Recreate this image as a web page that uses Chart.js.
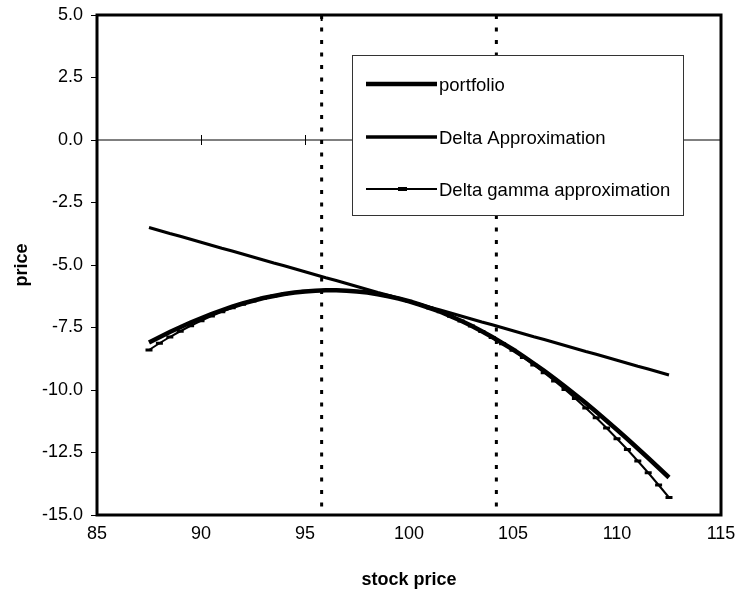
<!DOCTYPE html>
<html><head><meta charset="utf-8">
<script src="https://cdn.jsdelivr.net/npm/chart.js@4/dist/chart.umd.min.js"></script>
<style>html,body{margin:0;padding:0;background:#fff}#wrap{width:740px;height:594px;position:relative}</style>
</head><body><div id="wrap"><canvas id="c" width="740" height="594"></canvas></div>
<script>
const stockPrice = [87.5,88,88.5,89,89.5,90,90.5,91,91.5,92,92.5,93,93.5,94,94.5,95,95.5,96,96.5,97,97.5,98,98.5,99,99.5,100,100.5,101,101.5,102,102.5,103,103.5,104,104.5,105,105.5,106,106.5,107,107.5,108,108.5,109,109.5,110,110.5,111,111.5,112,112.5];
const portfolio = [-8.10,-7.89,-7.68,-7.49,-7.30,-7.13,-6.96,-6.81,-6.67,-6.54,-6.43,-6.32,-6.24,-6.16,-6.10,-6.06,-6.03,-6.01,-6.01,-6.03,-6.06,-6.10,-6.17,-6.25,-6.34,-6.45,-6.58,-6.72,-6.87,-7.05,-7.23,-7.43,-7.65,-7.88,-8.13,-8.38,-8.65,-8.94,-9.23,-9.54,-9.86,-10.19,-10.52,-10.87,-11.23,-11.59,-11.96,-12.34,-12.72,-13.11,-13.50];
const deltaApprox = [-3.50,-3.62,-3.74,-3.85,-3.97,-4.09,-4.21,-4.33,-4.44,-4.56,-4.68,-4.80,-4.92,-5.03,-5.15,-5.27,-5.39,-5.51,-5.62,-5.74,-5.86,-5.98,-6.10,-6.21,-6.33,-6.45,-6.57,-6.69,-6.80,-6.92,-7.04,-7.16,-7.28,-7.39,-7.51,-7.63,-7.75,-7.87,-7.98,-8.10,-8.22,-8.34,-8.46,-8.57,-8.69,-8.81,-8.93,-9.05,-9.16,-9.28,-9.40];
const deltaGammaApprox = [-8.40,-8.13,-7.88,-7.65,-7.43,-7.23,-7.04,-6.87,-6.71,-6.57,-6.44,-6.33,-6.24,-6.16,-6.10,-6.05,-6.02,-6.01,-6.01,-6.02,-6.06,-6.10,-6.17,-6.25,-6.34,-6.45,-6.58,-6.72,-6.87,-7.05,-7.24,-7.44,-7.66,-7.90,-8.15,-8.41,-8.70,-9.00,-9.31,-9.64,-9.98,-10.34,-10.72,-11.11,-11.52,-11.95,-12.38,-12.84,-13.31,-13.80,-14.30];
const markerLines = [95.8, 104.2];
const xTicks = [85,90,95,100,105,110,115];
const yTicks = [-15,-12.5,-10,-7.5,-5,-2.5,0,2.5,5];
const seriesNames = ['portfolio','Delta Approximation','Delta gamma approximation'];

const FONT = "'Liberation Sans', Arial, sans-serif";
const pts = arr => stockPrice.map((x,i)=>({x:x,y:arr[i]}));
const vline = x => [{x:x,y:yTicks[yTicks.length-1]},{x:x,y:yTicks[0]}];

const frameAndZero = {
  id:'frameAndZero',
  beforeDatasetsDraw(chart){
    const {ctx, chartArea:a, scales:{x,y}} = chart;
    const y0 = y.getPixelForValue(0);
    ctx.save();
    ctx.strokeStyle='#000'; ctx.lineWidth=1;
    ctx.beginPath(); ctx.moveTo(a.left,y0); ctx.lineTo(a.right,y0); ctx.stroke();
    xTicks.forEach(v=>{const px=Math.round(x.getPixelForValue(v))+0.5; ctx.beginPath(); ctx.moveTo(px,y0-5); ctx.lineTo(px,y0+5); ctx.stroke();});
    ctx.restore();
  },
  afterDatasetsDraw(chart){
    const {ctx, chartArea:a} = chart;
    ctx.save();
    ctx.strokeStyle='#000'; ctx.lineWidth=3;
    ctx.strokeRect(a.left,a.top,a.right-a.left,a.bottom-a.top);
    const bx=352, by=55, bw=331, bh=160;
    ctx.fillStyle='#fff'; ctx.fillRect(bx,by,bw,bh);
    ctx.strokeStyle='#333'; ctx.lineWidth=1; ctx.strokeRect(bx+0.5,by+0.5,bw,bh);
    const rows=[84,137,189], widths=[4.5,3.5,2];
    ctx.fillStyle='#000'; ctx.font='18.5px '+FONT; ctx.textBaseline='middle'; ctx.textAlign='left';
    rows.forEach((ry,i)=>{
      ctx.strokeStyle='#000'; ctx.lineWidth=widths[i];
      ctx.beginPath(); ctx.moveTo(366,ry); ctx.lineTo(437,ry); ctx.stroke();
      if(i===2){ ctx.fillRect(398,ry-2,9,4); }
      ctx.fillText(seriesNames[i],439,ry+2);
    });
    ctx.restore();
  }
};

new Chart(document.getElementById('c'),{
  type:'line',
  data:{datasets:[
    {label:seriesNames[0],data:pts(portfolio),borderColor:'#000',borderWidth:4.5,pointRadius:0,tension:0},
    {label:seriesNames[1],data:pts(deltaApprox),borderColor:'#000',borderWidth:3,pointRadius:0,tension:0},
    {label:seriesNames[2],data:pts(deltaGammaApprox),borderColor:'#000',borderWidth:2,pointRadius:3.5,pointStyle:'line',pointBorderWidth:3,pointBorderColor:'#000',pointBackgroundColor:'#000',tension:0},
    {label:'lower',data:vline(markerLines[0]),borderColor:'#000',borderWidth:3,borderDash:[4,8.5],pointStyle:'cross',pointRadius:[6,0],pointBorderWidth:2,pointBorderColor:'#000'},
    {label:'upper',data:vline(markerLines[1]),borderColor:'#000',borderWidth:3,borderDash:[4,8.5],pointRadius:0}
  ]},
  options:{
    responsive:false, animation:false, events:[],
    layout:{padding:{top:15,right:19,left:0,bottom:0}},
    plugins:{legend:{display:false},tooltip:{enabled:false}},
    scales:{
      x:{type:'linear',min:85,max:115,
        afterBuildTicks:s=>{s.ticks=xTicks.map(v=>({value:v}));},
        afterFit:s=>{s.height=79; s.paddingLeft=0; s.paddingRight=0;},
        grid:{display:false}, border:{display:false},
        ticks:{color:'#000',font:{family:FONT,size:18},padding:0,maxRotation:0},
        title:{display:true,text:'stock price',color:'#000',font:{family:FONT,size:18,weight:'bold'},padding:{top:4,bottom:3}}
      },
      y:{min:-15,max:5,
        afterBuildTicks:s=>{s.ticks=yTicks.map(v=>({value:v}));},
        afterFit:s=>{s.width=97; s.paddingTop=0; s.paddingBottom=0;},
        grid:{drawOnChartArea:false,color:'#000',tickLength:6,lineWidth:1}, border:{display:false},
        ticks:{color:'#000',font:{family:FONT,size:18},padding:8,callback:v=>Number(v).toFixed(1)},
        title:{display:true,text:'price',color:'#000',font:{family:FONT,size:18,weight:'bold'},padding:{top:11,bottom:0}}
      }
    }
  },
  plugins:[frameAndZero]
});
</script></body></html>
